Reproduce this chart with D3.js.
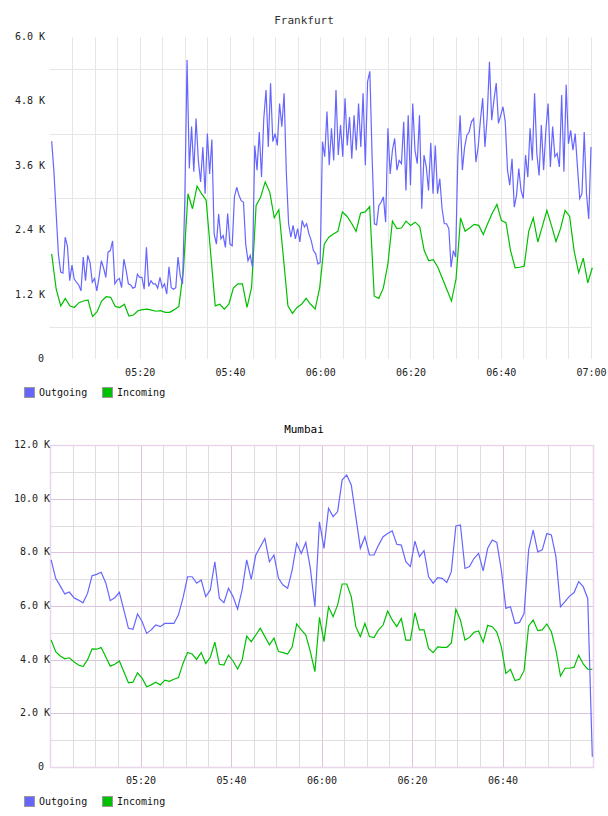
<!DOCTYPE html>
<html>
<head>
<meta charset="utf-8">
<script src="https://cdn.jsdelivr.net/npm/d3@7"></script>
<style>
  body { margin: 0; background: #fff; }
  text { font-family: "DejaVu Sans Mono", monospace; }
</style>
</head>
<body>
<svg id="chart"></svg>
<script>
const width = 608;
const height = 816;

// Frankfurt, values in K
const ffOutgoing = [
  4.06,3.50,2.71,1.95,1.62,1.60,2.27,2.10,1.46,1.75,
  1.49,1.43,1.38,1.27,1.90,1.46,1.93,1.80,1.43,1.50,
  1.27,1.52,1.83,1.70,1.52,1.99,2.02,2.20,1.40,1.47,
  1.50,1.33,1.86,1.65,1.40,1.38,1.32,1.34,1.58,1.52,
  1.52,1.30,2.08,1.35,1.46,1.40,1.40,1.32,1.52,1.33,
  1.40,1.21,1.72,1.33,1.30,1.33,1.90,1.55,1.40,2.95,
  5.57,3.55,4.33,3.49,4.48,3.70,3.30,3.95,3.08,4.20,
  3.45,4.09,2.33,2.14,2.70,2.24,2.30,2.08,2.71,2.14,
  2.11,3.02,3.20,3.05,2.95,2.92,2.14,1.83,1.93,1.71,
  3.98,3.52,4.23,3.39,4.48,5.01,3.95,5.14,4.05,4.20,
  3.98,4.76,4.33,4.95,3.46,2.52,2.27,2.49,2.24,2.43,
  2.18,2.58,2.46,2.52,2.33,2.21,2.02,1.96,1.77,1.80,
  4.05,3.77,4.61,3.61,4.30,3.70,5.01,3.80,4.36,3.77,
  4.86,3.98,4.51,3.73,4.54,3.89,4.76,3.95,4.95,3.61,
  5.17,5.36,3.77,2.52,2.50,2.86,2.92,3.02,2.55,4.30,
  3.45,3.89,4.11,3.52,3.70,3.64,4.42,3.14,4.54,3.24,
  4.76,3.89,3.64,4.54,2.80,3.80,3.58,3.14,4.03,3.08,
  3.98,3.08,3.36,2.80,2.52,2.52,2.43,1.71,2.02,1.90,
  3.77,4.54,3.52,3.95,4.17,4.23,4.42,4.48,3.67,3.95,
  4.45,4.86,3.95,4.51,5.54,4.45,4.83,5.14,4.39,4.54,
  4.70,4.42,3.52,3.24,3.73,2.83,3.05,3.55,3.14,2.99,
  3.80,3.39,4.30,3.70,4.95,3.83,3.42,4.36,3.52,4.26,
  4.76,3.58,4.33,3.77,3.83,3.58,4.92,3.49,5.11,4.01,
  4.26,3.89,4.20,3.58,2.99,3.08,4.23,3.08,2.61,3.95
];
const ffIncoming = [
  1.96,1.30,0.99,1.13,0.99,0.96,1.05,1.08,1.10,0.79,
  0.88,1.08,1.16,1.15,0.98,0.96,1.02,0.80,0.82,0.90,
  0.92,0.93,0.91,0.89,0.90,0.87,0.87,0.92,0.98,1.65,
  3.08,2.80,3.22,3.08,2.96,1.97,0.99,1.02,0.93,1.02,
  1.32,1.40,1.40,0.96,1.33,2.86,3.02,3.30,3.11,2.63,
  2.78,1.90,0.99,0.85,0.96,1.02,1.13,1.02,0.93,1.33,
  2.14,2.27,2.33,2.38,2.74,2.66,2.53,2.38,2.72,2.74,
  2.84,1.17,1.13,1.32,1.77,2.57,2.43,2.44,2.57,2.49,
  2.55,2.47,2.02,1.83,1.85,1.71,1.50,1.29,1.08,1.49,
  2.63,2.38,2.44,2.51,2.49,2.32,2.53,2.72,2.88,2.58,
  2.54,2.02,1.70,1.71,1.73,2.38,2.63,2.18,2.47,2.77,
  2.49,2.19,2.43,2.77,2.66,2.01,1.61,1.88,1.42,1.70
];

// Mumbai, values in K
const muOutgoing = [
  7.72,7.03,6.75,6.45,6.52,6.31,6.22,6.12,6.47,7.13,
  7.18,7.26,6.87,6.20,6.31,6.51,5.85,5.17,5.13,5.70,
  5.42,4.98,5.11,5.29,5.23,5.35,5.35,5.35,5.67,6.30,
  7.09,7.09,6.85,6.97,6.35,6.60,7.65,6.28,6.12,6.66,
  6.35,5.88,6.60,7.72,6.99,7.90,8.21,8.52,7.65,7.90,
  7.03,6.78,6.66,7.34,8.34,7.96,8.37,7.40,5.97,9.14,
  8.15,9.64,9.33,9.52,10.70,10.88,10.51,9.33,8.15,8.58,
  7.90,7.90,8.27,8.58,8.70,8.80,8.30,8.27,7.65,7.47,
  8.42,7.84,8.06,7.09,6.85,7.06,7.03,6.88,7.28,8.98,
  9.02,7.40,7.47,7.78,7.96,7.31,8.15,8.46,8.37,7.34,
  5.91,5.97,5.35,5.39,5.72,8.09,8.83,8.02,8.09,8.70,
  8.65,7.84,5.97,6.16,6.37,6.50,6.91,6.72,6.28,0.38
];
const muIncoming = [
  4.73,4.30,4.14,4.03,4.07,3.92,3.80,3.74,3.99,4.40,
  4.39,4.45,4.11,3.76,3.83,3.95,3.55,3.14,3.16,3.51,
  3.31,2.99,3.06,3.16,3.06,3.24,3.19,3.27,3.33,3.86,
  4.27,4.21,4.01,4.27,3.86,4.09,4.65,3.83,3.80,4.17,
  3.95,3.65,3.99,4.88,4.67,4.92,5.17,4.86,4.55,4.80,
  4.30,4.26,4.21,4.48,5.33,5.11,4.92,4.30,3.55,5.58,
  4.67,5.97,5.60,6.04,6.82,6.82,6.35,5.23,4.86,5.35,
  4.86,4.82,5.11,5.29,5.81,5.48,5.23,5.54,4.73,4.73,
  5.75,5.11,5.11,4.42,4.26,4.48,4.46,4.46,4.61,5.88,
  5.48,4.73,4.83,5.02,5.07,4.65,5.28,5.23,5.03,4.48,
  3.49,3.64,3.22,3.27,3.59,5.26,5.48,5.08,5.11,5.33,
  5.04,4.36,3.39,3.68,3.68,3.72,4.17,3.84,3.65,3.64
];

const ffYTicks = [0, 1.2, 2.4, 3.6, 4.8, 6.0];
const ffYGrid = [0.6, 1.8, 3.0, 4.2, 5.4];
const muYTicks = [0, 2, 4, 6, 8, 10, 12];
const muYGrid = [1, 3, 5, 7, 9, 11];
const ffXTicks = ["05:20", "05:40", "06:00", "06:20", "06:40", "07:00"];
const muXTicks = ["05:20", "05:40", "06:00", "06:20", "06:40"];
const seriesNames = ["Outgoing", "Incoming"];

var parse = d3.timeParse("%H:%M:%S");
var parseHM = d3.timeParse("%H:%M");

var svg = d3.select("#chart")
    .attr("width", width)
    .attr("height", height);

function toPoints(values, start, stepSec) {
    var t0 = parse(start).getTime();
    return values.map((v, i) => ({ t: new Date(t0 + i * stepSec * 1000), v: v }));
}

function fmtK(d) {
    return d === 0 ? "0" : d.toFixed(1) + " K";
}

function drawChart(o) {
    var g = svg.append("g");
    var x = d3.scaleTime()
        .domain([parse("05:00:00"), parse("07:00:00")])
        .range([o.left, o.right]);
    var y = d3.scaleLinear().domain([0, o.yMax]).range([o.bottom, o.top]);

    g.append("text")
        .attr("x", 304).attr("y", o.titleY)
        .attr("text-anchor", "middle")
        .attr("font-size", 11)
        .attr("fill", o.titleColor)
        .text(o.title);

    // vertical grid every 5 minutes
    var vt = x.ticks(d3.timeMinute.every(5)).filter(d => d > x.domain()[0] && (o.lastV || d < x.domain()[1]));
    g.selectAll(".vg").data(vt).enter().append("line")
        .attr("x1", d => Math.round(x(d)) + 0.5).attr("x2", d => Math.round(x(d)) + 0.5)
        .attr("y1", o.top).attr("y2", o.bottom)
        .attr("stroke", d => (o.major && d.getMinutes() % 20 == 0) ? o.majorColor : o.gridColor)
        .attr("stroke-width", 1);

    g.selectAll(".hg").data(o.grid).enter().append("line")
        .attr("x1", o.left).attr("x2", o.right + 1)
        .attr("y1", d => Math.round(y(d)) + 0.5).attr("y2", d => Math.round(y(d)) + 0.5)
        .attr("stroke", o.gridColor);

    if (o.major) {
        g.selectAll(".hm").data(o.yTicks.filter(d => d > 0 && d < o.yMax)).enter().append("line")
            .attr("x1", o.left).attr("x2", o.right)
            .attr("y1", d => Math.round(y(d)) + 0.5).attr("y2", d => Math.round(y(d)) + 0.5)
            .attr("stroke", o.majorColor);
        g.append("rect")
            .attr("x", o.left + 0.5).attr("y", o.top + 0.5)
            .attr("width", o.right - o.left).attr("height", o.bottom - o.top)
            .attr("fill", "none")
            .attr("stroke", o.borderColor)
            .attr("stroke-width", 1.5);
    }

    // y labels
    g.selectAll(".yl").data(o.yTicks).enter().append("text")
        .attr("x", d => d === 0 ? o.zeroX : o.labelX)
        .attr("y", d => y(d) + 3)
        .attr("text-anchor", "end")
        .attr("font-size", 10)
        .attr("fill", "#222")
        .text(fmtK);

    // x labels
    var xAxis = d3.axisBottom(x)
        .tickValues(o.xTicks.map(parseHM).map(d => parse(d3.timeFormat("%H:%M:00")(d))))
        .tickSize(0)
        .tickFormat(d3.timeFormat("%H:%M"));
    var ax = g.append("g")
        .attr("transform", `translate(0,${o.xLabelY})`)
        .call(xAxis);
    ax.select(".domain").remove();
    ax.selectAll("text")
        .attr("font-family", "DejaVu Sans Mono")
        .attr("font-size", 10)
        .attr("fill", "#222")
        .attr("dy", 0);

    var line = d3.line().x(d => x(d.t)).y(d => y(d.v));
    g.append("path")
        .datum(o.incoming)
        .attr("d", line)
        .attr("fill", "none")
        .attr("stroke", "#00c000")
        .attr("stroke-width", 1.2);
    g.append("path")
        .datum(o.outgoing)
        .attr("d", line)
        .attr("fill", "none")
        .attr("stroke", "#6666ff")
        .attr("stroke-width", 1.2);

    // legend
    var colors = ["#6666ff", "#00c000"];
    var lg = g.selectAll(".lg").data(seriesNames).enter().append("g")
        .attr("transform", (d, i) => `translate(${24 + i * 78},${o.legendY})`);
    lg.append("rect")
        .attr("x", 0.5).attr("y", 0.5).attr("width", 10).attr("height", 10)
        .attr("fill", (d, i) => colors[i])
        .attr("stroke", "#999");
    lg.append("text")
        .attr("x", 15).attr("y", 9)
        .attr("font-size", 10)
        .attr("fill", "#111")
        .text(d => d);
}

drawChart({
    title: "Frankfurt", titleY: 24, titleColor: "#333",
    left: 49.4, right: 591, top: 37, bottom: 359, yMax: 6.0,
    yTicks: ffYTicks, grid: ffYGrid, xTicks: ffXTicks,
    labelX: 45, zeroX: 44, xLabelY: 373, legendY: 387,
    gridColor: "#e6e6e6", lastV: true, major: false,
    outgoing: toPoints(ffOutgoing, "05:00:30", 30),
    incoming: toPoints(ffIncoming, "05:00:30", 60.4)
});

drawChart({
    title: "Mumbai", titleY: 433, titleColor: "#000",
    left: 50, right: 593, top: 445, bottom: 767, yMax: 12,
    yTicks: muYTicks, grid: muYGrid, xTicks: muXTicks,
    labelX: 50, zeroX: 44, xLabelY: 781, legendY: 796,
    gridColor: "#dedede", majorColor: "#dcc4dc", borderColor: "#ead6ea",
    lastV: false, major: true,
    outgoing: toPoints(muOutgoing, "05:00:15", 60.3),
    incoming: toPoints(muIncoming, "05:00:15", 60.3)
});
</script>
</body>
</html>
